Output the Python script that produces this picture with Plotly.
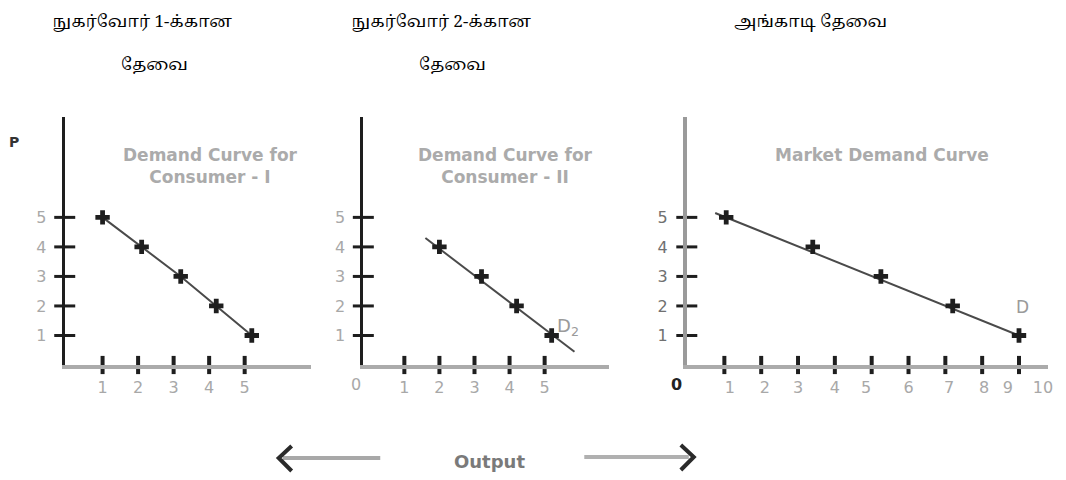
import plotly.graph_objects as go

# ---------------- data ----------------
price = [5, 4, 3, 2, 1]
q_consumer1 = [1.0, 2.1, 3.2, 4.2, 5.2]
price2 = [4, 3, 2, 1]
q_consumer2 = [2.0, 3.2, 4.2, 5.2]
d2_line_q = [1.6, 5.85]
d2_line_p = [4.3, 0.45]
q_market = [1.05, 3.4, 5.25, 7.2, 9.0]
m_line_q = [0.75, 9.0]
m_line_p = [5.15, 1.0]

y_tick_vals = [1, 2, 3, 4, 5]
x_tick_vals12 = [1, 2, 3, 4, 5]
x_tick_vals3 = [1, 2, 3, 4, 5, 6, 7, 8, 9]
x_label_text3 = ["1", "2", "3", "4", "5", "6", "7", "8", "9", "10"]
x_label_pos3 = [1.15, 2.1, 3.0, 4.0, 4.85, 6.0, 7.1, 8.05, 8.7, 9.65]

titles_ta_line1 = ["நுகர்வோர் 1-க்கான", "நுகர்வோர் 2-க்கான", "அங்காடி தேவை"]
titles_ta_line2 = ["தேவை", "தேவை"]
panel_titles = ["Demand Curve for<br>Consumer - I",
                "Demand Curve for<br>Consumer - II",
                "Market Demand Curve"]

W, H = 1066, 480
OFF = 8  # page body margin


def fx(p):
    return (p - OFF) / W


def fy(p):
    return 1 - (p - OFF) / H


X0 = [-0.065, -0.17, -0.02]
ranges_x = [[-0.065, 6.855], [-0.17, 6.84], [-0.02, 9.79]]
domains_x = [[fx(65), fx(312)], [fx(365), fx(612)], [fx(690), fx(1053)]]
y_range = [0, 8.4]
y_domain = [fy(365), fy(117)]

TICKFONT = dict(family="DejaVu Sans, Arial, sans-serif", size=16, color="#a8a8a8")
TITLEFONT = dict(family="DejaVu Sans, Arial, sans-serif", size=17, color="#ababab", weight="bold")
TAMIL = dict(family="Noto Serif Tamil, Noto Sans Tamil, Lohit Tamil, Latha, serif",
             size=17, color="#000000")

fig = go.Figure()

suffix = ["", "2", "3"]
line_q = [q_consumer1, d2_line_q, m_line_q]
line_p = [price, d2_line_p, m_line_p]
pts_q = [q_consumer1, q_consumer2, q_market]
pts_p = [price, price2, price]
xticks_list = [x_tick_vals12, x_tick_vals12, x_tick_vals3]

for i in range(3):
    xa = "x" + suffix[i]
    ya = "y" + suffix[i]
    fig.add_trace(go.Scatter(x=line_q[i], y=line_p[i], mode="lines",
                             line=dict(color="#4a4a4a", width=2),
                             xaxis=xa, yaxis=ya, hoverinfo="skip"))
    fig.add_trace(go.Scatter(x=pts_q[i], y=pts_p[i], mode="markers",
                             marker=dict(symbol="cross", size=12, color="#1e1e1e"),
                             xaxis=xa, yaxis=ya, hoverinfo="skip"))
    fig.add_trace(go.Scatter(x=[X0[i]] * len(y_tick_vals), y=y_tick_vals, mode="markers",
                             marker=dict(symbol="line-ew", size=15,
                                         line=dict(color="#1e1e1e", width=3)),
                             xaxis=xa, yaxis=ya, cliponaxis=False, hoverinfo="skip"))
    fig.add_trace(go.Scatter(x=xticks_list[i], y=[0] * len(xticks_list[i]), mode="markers",
                             marker=dict(symbol="line-ns", size=13,
                                         line=dict(color="#1e1e1e", width=4)),
                             xaxis=xa, yaxis=ya, cliponaxis=False, hoverinfo="skip"))

layout = dict(
    width=W, height=H, margin=dict(l=0, r=0, t=0, b=0),
    paper_bgcolor="white", plot_bgcolor="white", showlegend=False,
)

ycols = ["#1e1e1e", "#1e1e1e", "#9a9a9a"]
for i in range(3):
    k = suffix[i]
    xtv = x_tick_vals12 if i < 2 else x_label_pos3
    xtt = [str(v) for v in x_tick_vals12] if i < 2 else x_label_text3
    layout["xaxis" + k] = dict(
        domain=domains_x[i], range=ranges_x[i], anchor="y" + k,
        showgrid=False, zeroline=False, showline=True, linecolor="#ababab", linewidth=4,
        tickmode="array", tickvals=xtv, ticktext=xtt, ticks="outside",
        ticklen=5, tickcolor="rgba(0,0,0,0)", tickfont=TICKFONT, fixedrange=True,
    )
    ytf = dict(TICKFONT)
    if i == 2:
        ytf["color"] = "#707070"
    layout["yaxis" + k] = dict(
        domain=y_domain, range=y_range, anchor="x" + k,
        showgrid=False, zeroline=False, showline=True, linecolor=ycols[i],
        linewidth=3 if i < 2 else 4,
        tickmode="array", tickvals=y_tick_vals, ticktext=[str(v) for v in y_tick_vals],
        ticks="outside", ticklen=12, tickcolor="rgba(0,0,0,0)", tickfont=ytf, fixedrange=True,
    )

fig.update_layout(**layout)

ann = []
for txt, cx in zip(titles_ta_line1, [143, 443, 814]):
    ann.append(dict(text=txt, x=fx(cx), y=fy(22), xref="paper", yref="paper",
                    showarrow=False, font=TAMIL, xanchor="center", yanchor="middle"))
for txt, cx in zip(titles_ta_line2, [155, 455]):
    ann.append(dict(text=txt, x=fx(cx), y=fy(65), xref="paper", yref="paper",
                    showarrow=False, font=TAMIL, xanchor="center", yanchor="middle"))
for txt, cx in zip(panel_titles, [211, 508, 886]):
    ann.append(dict(text=txt, x=fx(cx), y=fy(143), xref="paper", yref="paper",
                    showarrow=False, font=TITLEFONT, xanchor="center", yanchor="top"))
ann.append(dict(text="<b>P</b>", x=fx(14), y=fy(142), xref="paper", yref="paper",
                showarrow=False, font=dict(family="DejaVu Sans, Arial", size=14, color="#333"),
                xanchor="center", yanchor="middle"))
ann.append(dict(text="0", x=fx(358), y=fy(384), xref="paper", yref="paper", showarrow=False,
                font=TICKFONT, xanchor="center", yanchor="middle"))
ann.append(dict(text="<b>0</b>", x=fx(680), y=fy(384), xref="paper", yref="paper", showarrow=False,
                font=dict(family="DejaVu Sans, Arial", size=16, color="#222"),
                xanchor="center", yanchor="middle"))
ann.append(dict(text="D<sub>2</sub>", x=5.66, y=1.3, xref="x2", yref="y2", showarrow=False,
                font=dict(family="DejaVu Sans, Arial", size=18, color="#9a9a9a")))
ann.append(dict(text="D", x=9.1, y=1.95, xref="x3", yref="y3", showarrow=False,
                font=dict(family="DejaVu Sans, Arial", size=17, color="#9a9a9a")))
ann.append(dict(text="<b>Output</b>", x=fx(492), y=fy(461), xref="paper", yref="paper",
                showarrow=False, font=dict(family="DejaVu Sans, Arial", size=18, color="#7a7a7a"),
                xanchor="center", yanchor="middle"))
fig.update_layout(annotations=ann)

shapes = []
shapes.append(dict(type="line", xref="paper", yref="paper", x0=fx(284), x1=fx(382),
                   y0=fy(458), y1=fy(458), line=dict(color="#a8a8a8", width=4)))
shapes.append(dict(type="path", xref="paper", yref="paper",
                   path=f"M {fx(293)},{fy(446)} L {fx(280)},{fy(458)} L {fx(293)},{fy(471)}",
                   line=dict(color="#2a2a2a", width=4)))
shapes.append(dict(type="line", xref="paper", yref="paper", x0=fx(587), x1=fx(692),
                   y0=fy(457), y1=fy(457), line=dict(color="#b0b0b0", width=4)))
shapes.append(dict(type="path", xref="paper", yref="paper",
                   path=f"M {fx(684)},{fy(445)} L {fx(697)},{fy(457)} L {fx(684)},{fy(470)}",
                   line=dict(color="#2a2a2a", width=4)))
fig.update_layout(shapes=shapes)

fig.write_html("out.html")
